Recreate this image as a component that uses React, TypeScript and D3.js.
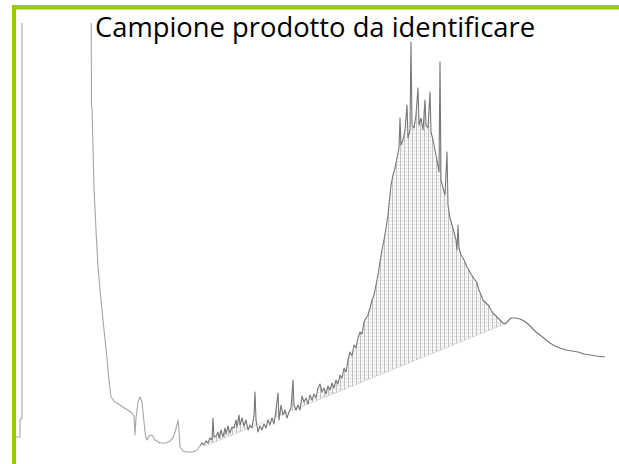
import React from 'react'
import * as d3 from 'd3'

const title = 'Campione prodotto da identificare'

// scan number (x) and detector abundance (y)
const solventScans = [0, 4, 4, 6, 6, 75, 75.5, 76, 78, 80, 82, 85, 88, 91, 93, 95, 99, 104, 110, 116, 118, 119, 120, 122, 124, 126, 127, 129, 130, 131, 133, 136, 139, 144, 150, 154, 157, 159, 161, 162, 163, 164, 167, 171, 177, 181, 184]
const solventAbund = [27, 27, 44, 46, 520, 520, 357, 357, 276, 234, 197, 164, 134, 106, 84, 67, 62, 59, 55, 51, 48, 29, 46, 62, 67, 62, 52, 32, 26, 24, 28, 29, 24, 21, 21, 23, 26, 32, 39, 44, 34, 17, 13, 12, 12, 14, 18]

const noiseScans = [186, 188, 190, 192, 194, 196, 197, 198, 200, 202, 203, 205, 207, 209, 210, 212, 214, 216, 218, 220, 221, 223, 224, 226, 228, 230, 232, 234, 236, 238, 239, 240, 242, 244, 246, 248, 250, 252, 254, 256, 258, 260, 262, 263, 265, 267, 269, 271, 273, 275, 277, 278, 280, 282, 284, 286, 288, 290, 292, 294, 296, 298, 300, 302, 304, 306, 308, 310, 312, 314, 316, 318, 320, 322, 324, 326, 328, 330, 332, 334, 336, 338, 340, 342, 344, 346, 348, 350, 352, 354, 356, 358, 360, 362, 364, 366, 368, 370, 372, 374, 375, 377, 379, 381, 383]
const noiseAbund = [21, 19, 23, 21, 26, 24, 46, 27, 28, 32, 26, 34, 27, 36, 30, 38, 31, 37, 36, 44, 37, 49, 39, 46, 38, 44, 34, 39, 36, 49, 72, 44, 32, 38, 34, 40, 36, 44, 39, 46, 40, 54, 71, 44, 59, 49, 54, 46, 52, 56, 84, 59, 54, 59, 54, 68, 62, 66, 60, 69, 64, 70, 66, 76, 80, 72, 76, 70, 78, 74, 81, 76, 84, 80, 89, 86, 96, 92, 104, 112, 108, 119, 116, 126, 132, 130, 142, 146, 149, 156, 164, 169, 179, 189, 202, 214, 224, 236, 249, 269, 279, 289, 296, 306, 316]

const peakScans = [384, 385, 387, 389, 391, 392, 394, 395, 396, 398, 400, 402, 403, 405, 407, 409, 410, 412, 414, 415, 417, 419, 421, 423, 424, 425, 427, 429, 431, 432, 434, 436, 438, 440, 441, 442, 443, 445, 447, 449, 451, 453, 455, 457, 459, 461, 463, 465, 467, 469, 471, 473, 475, 477, 479, 481, 483, 485, 487, 489, 491]
const peakAbund = [346, 319, 324, 334, 359, 326, 334, 422, 339, 336, 349, 376, 339, 346, 334, 364, 339, 336, 372, 332, 324, 314, 304, 292, 402, 284, 276, 269, 312, 259, 246, 239, 232, 224, 214, 239, 216, 209, 206, 202, 197, 194, 190, 187, 184, 181, 174, 169, 164, 162, 160, 158, 154, 151, 149, 147, 145, 143, 141, 140, 142]

const tailScans = [493, 495, 497, 500, 504, 508, 512, 516, 520, 524, 529, 534, 539, 544, 550, 556, 562, 568, 574, 580, 589]
const tailAbund = [144, 146, 146, 146, 145, 143, 140, 136, 132, 129, 125, 121, 118, 116, 114, 113, 112, 110, 109, 108, 107]

// integration baseline drawn under the peak
const baseScans = [189, 491]
const baseAbund = [18, 141]

type Pt = { s: number; a: number }

const zip = (s: number[], a: number[]): Pt[] => s.map((v, i) => ({ s: v, a: a[i] }))

const solvent = zip(solventScans, solventAbund)
const analyte: Pt[] = [
  solvent[solvent.length - 1],
  ...zip(noiseScans, noiseAbund),
  ...zip(peakScans, peakAbund),
  ...zip(tailScans, tailAbund),
]

export default function App() {
  const W = 619
  const H = 464
  const plotTop = 23

  const x = d3.scaleLinear().domain([0, 603]).range([16, 619])
  const y = d3.scaleLinear().domain([0, 440]).range([464, 24])

  const base = d3.scaleLinear().domain(baseScans).range(baseAbund)

  const line = d3.line<Pt>().x(d => x(d.s)).y(d => y(d.a))

  const hatched = analyte.filter(d => d.s >= baseScans[0] && d.s <= baseScans[1])
  const area = d3.area<Pt>()
    .x(d => x(d.s))
    .y0(d => y(base(d.s)))
    .y1(d => y(Math.max(d.a, base(d.s))))

  return (
    <svg width={W} height={H} style={{ position: 'absolute', left: 0, top: 0, background: '#fff' }}>
      <defs>
        <clipPath id="plot">
          <rect x={16} y={plotTop} width={W - 16} height={H - plotTop} />
        </clipPath>
        <pattern id="hatch" width={4} height={3.5} patternUnits="userSpaceOnUse">
          <rect width={4} height={3.5} fill="#fbfbfb" />
          <line x1={0.5} y1={0} x2={0.5} y2={3.5} stroke="#c2c2c2" strokeWidth={1} />
          <line x1={1.5} y1={0.5} x2={3.5} y2={0.5} stroke="#d6d6d6" strokeWidth={1} />
        </pattern>
      </defs>

      <g clipPath="url(#plot)">
        <path d={area(hatched) ?? ''} fill="url(#hatch)" />
        <line x1={x(baseScans[0])} y1={y(baseAbund[0])} x2={x(baseScans[1])} y2={y(baseAbund[1])}
          stroke="#b8b8b8" strokeWidth={0.7} strokeDasharray="2 1" />
        <path d={line(solvent) ?? ''} fill="none" stroke="#a6a6a6" strokeWidth={1.1} strokeLinejoin="round" />
        <path d={line(analyte) ?? ''} fill="none" stroke="#777" strokeWidth={1.1} strokeLinejoin="round" />
      </g>

      <text x={95} y={37} fontFamily="'Open Sans', sans-serif" fontSize={26.5} fill="#000"
        textLength={440} lengthAdjust="spacingAndGlyphs">{title}</text>

      <rect x={12} y={5} width={W - 12} height={4.5} fill="#99cc00" />
      <rect x={12} y={5} width={4} height={H - 5} fill="#99cc00" />
    </svg>
  )
}
